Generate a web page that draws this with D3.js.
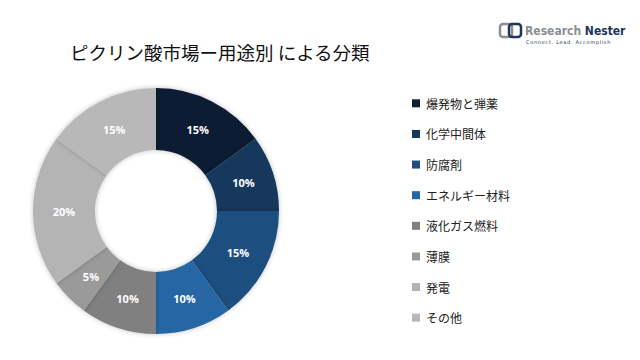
<!DOCTYPE html>
<html><head><meta charset="utf-8">
<script src="https://cdn.jsdelivr.net/npm/d3@7"></script>
<style>body{margin:0;background:#fff;}svg{display:block;font-family:"Noto Sans CJK JP","Noto Sans",sans-serif;}</style>
</head><body>
<svg id="c" width="640" height="360"></svg>
<script>
const categories = ["爆発物と弾薬","化学中間体","防腐剤","エネルギー材料","液化ガス燃料","薄膜","発電","その他"];
const values = [15,10,15,10,10,5,20,15];
const colors = ["#0d1f31","#14385c","#1f4f80","#2566a4","#808080","#9a9a9a","#b4b4b4","#b8b8b8"];
const title = "ピクリン酸市場ー用途別 による分類";

const svg = d3.select("#c");
const cx = 156, cy = 211, R = 123, r = 61;
const data = categories.map((c,i)=>({cat:c,value:values[i],color:colors[i]}));
const pie = d3.pie().value(d=>d.value).sort(null);
const arc = d3.arc().innerRadius(r).outerRadius(R);
const labelArc = d3.arc().innerRadius((r+R)/2).outerRadius((r+R)/2);

const defs = svg.append("defs");
const f = defs.append("filter").attr("id","sh").attr("x","-20%").attr("y","-20%").attr("width","140%").attr("height","140%");
f.append("feGaussianBlur").attr("in","SourceAlpha").attr("stdDeviation",2.5);
f.append("feOffset").attr("dx",0).attr("dy",0).attr("result","b");
f.append("feComponentTransfer").append("feFuncA").attr("type","linear").attr("slope",0.25);
const m = f.append("feMerge"); m.append("feMergeNode"); m.append("feMergeNode").attr("in","SourceGraphic");

svg.append("text").attr("x",70).attr("y",60).attr("font-size",18.5).attr("fill","#111").text(title);

const g = svg.append("g").attr("transform",`translate(${cx},${cy})`);
const arcs = pie(data);
g.selectAll("path").data(arcs).join("path").attr("d",arc).attr("fill",d=>d.data.color).attr("filter","url(#sh)");
g.selectAll("text").data(arcs).join("text")
  .attr("transform",d=>`translate(${labelArc.centroid(d)})`)
  .attr("text-anchor","middle").attr("dominant-baseline","central")
  .attr("font-size",11).attr("font-weight","bold").attr("fill","#fff")
  .attr("font-family","'Open Sans',sans-serif")
  .text(d=>d.data.value+"%");

const leg = svg.append("g");
const ly = d3.scaleBand().domain(categories).range([88,333]);
const li = leg.selectAll("g").data(data).join("g").attr("transform",d=>`translate(412,${ly(d.cat)+ly.bandwidth()/2})`);
li.append("rect").attr("x",0).attr("y",-4).attr("width",8).attr("height",8).attr("fill",d=>d.color);
li.append("text").attr("x",14).attr("y",0).attr("dominant-baseline","central").attr("font-size",12).attr("fill","#222").text(d=>d.cat);

// logo
const lg = svg.append("g").attr("transform","translate(500,22)");
lg.append("rect").attr("x",0).attr("y",2).attr("width",12).attr("height",13).attr("rx",3).attr("fill","none").attr("stroke","#8a8f96").attr("stroke-width",2.5);
lg.append("rect").attr("x",9).attr("y",2).attr("width",12).attr("height",13).attr("rx",3).attr("fill","none").attr("stroke","#1d3557").attr("stroke-width",2.5);
lg.append("text").attr("x",25).attr("y",13).attr("font-family","'Liberation Sans Narrow','DejaVu Sans Condensed',sans-serif").attr("font-size",12).attr("font-weight","bold")
  .call(t=>{t.append("tspan").attr("fill","#8a8f96").text("Research ");t.append("tspan").attr("fill","#1d3557").text("Nester");});
lg.append("text").attr("x",26).attr("y",22).attr("font-size",5).attr("fill","#1d3557").attr("letter-spacing",0.7).attr("font-family","'DejaVu Sans',sans-serif").text("Connect. Lead. Accomplish");
</script>
</body></html>
